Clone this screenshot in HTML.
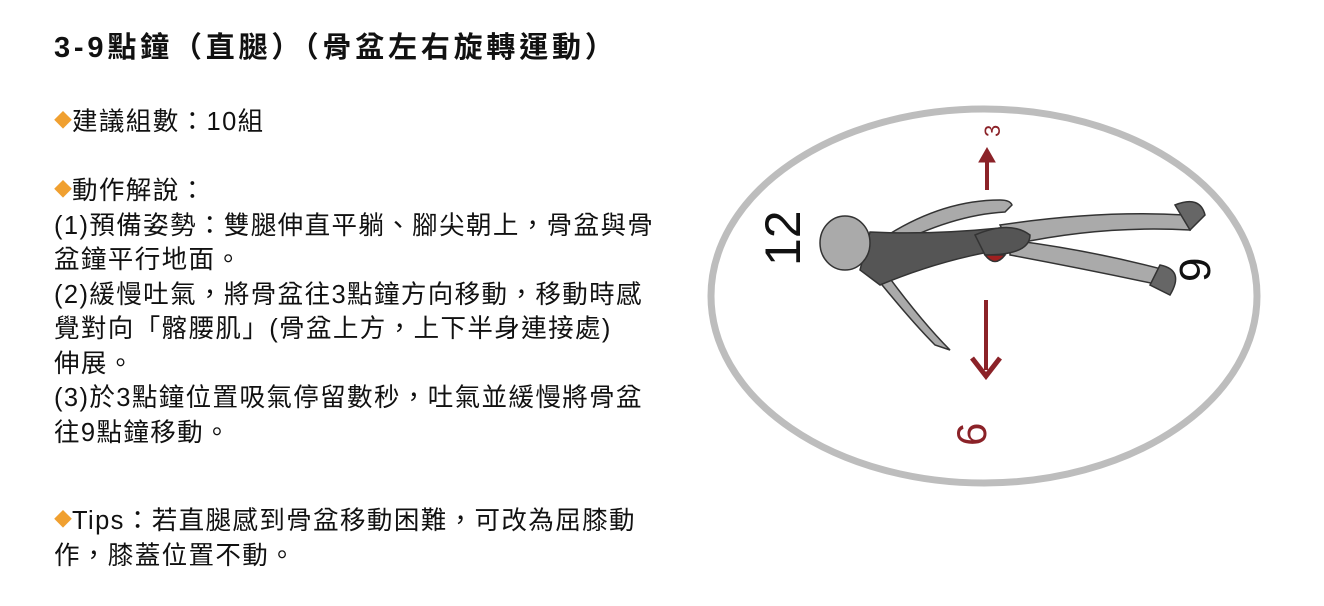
<!DOCTYPE html>
<html><head><meta charset="utf-8"><style>
body{margin:0;width:1324px;height:606px;background:#fff;overflow:hidden;position:relative;font-family:"Liberation Sans","Noto Sans CJK TC",sans-serif;color:#111}
.t{position:absolute;left:54px;top:24px;font-size:29px;font-weight:bold;white-space:nowrap;letter-spacing:3.8px}
.b{position:absolute;left:54px;white-space:nowrap;font-size:25.5px;line-height:34.5px;letter-spacing:1.4px}
.d{color:#f0a030;font-size:18px;vertical-align:3px;letter-spacing:0}
</style></head><body>
<div class="t">3-9點鐘（直腿）（骨盆左右旋轉運動）</div>
<div class="b" style="top:104px"><span class="d">◆</span>建議組數：10組</div>
<div class="b" style="top:173px"><span class="d">◆</span>動作解說：<br>(1)預備姿勢：雙腿伸直平躺、腳尖朝上，骨盆與骨<br>盆鐘平行地面。<br>(2)緩慢吐氣，將骨盆往3點鐘方向移動，移動時感<br>覺對向「髂腰肌」(骨盆上方，上下半身連接處)<br>伸展。<br>(3)於3點鐘位置吸氣停留數秒，吐氣並緩慢將骨盆<br>往9點鐘移動。</div>
<div class="b" style="top:503px"><span class="d">◆</span>Tips：若直腿感到骨盆移動困難，可改為屈膝動<br>作，膝蓋位置不動。</div>
<svg style="position:absolute;left:0;top:0" width="1324" height="606">
<ellipse cx="984" cy="296" rx="273" ry="187" fill="#fff" stroke="#bdbdbd" stroke-width="7"/>
<g fill="#8b2228" stroke="#8b2228">
<line x1="987" y1="190" x2="987" y2="153" stroke-width="4"/><path d="M979 162 L987 148 L995 162Z"/>
<line x1="986" y1="300" x2="986" y2="370" stroke-width="4"/><path d="M972 358 L986 376 L1000 358" fill="none" stroke-width="5"/>
</g>
<text transform="translate(1000,137) rotate(-90)" font-size="22" fill="#8b2228" font-family="Liberation Sans">3</text>
<text transform="translate(986,446) rotate(-90)" font-size="42" fill="#8b2228" font-family="Liberation Sans">6</text>
<text transform="translate(800,266) rotate(-90)" font-size="50" fill="#111" font-family="Liberation Sans">12</text>
<text transform="translate(1210,282) rotate(-90)" font-size="44" fill="#111" font-family="Liberation Sans">9</text>
<g stroke="#333" stroke-width="1.5">
<path d="M880 240 Q940 200 1000 200 Q1010 200 1012 205 L1005 212 Q950 215 885 250Z" fill="#aaa"/>
<path d="M870 270 Q910 320 935 345 L950 350 Q920 320 880 265Z" fill="#aaa"/>
<path d="M1000 225 Q1100 210 1185 215 L1190 230 Q1100 225 1010 245Z" fill="#aaa"/>
<path d="M1010 240 Q1090 250 1165 270 L1160 285 Q1090 270 1010 255Z" fill="#aaa"/>
<path d="M870 232 Q930 235 1000 228 Q1020 240 1000 250 Q940 260 880 285 L860 270Z" fill="#555"/>
<path d="M975 235 Q1010 220 1030 235 Q1030 255 985 255Z" fill="#555"/>
<path d="M985 255 Q995 268 1005 255Z" fill="#a02020"/>
<ellipse cx="845" cy="243" rx="25" ry="27" fill="#aaa"/>
<path d="M1175 205 Q1200 195 1205 215 L1190 230Z" fill="#666"/>
<path d="M1160 265 Q1185 270 1170 295 L1150 285Z" fill="#666"/>
</g>
</svg>
</body></html>
